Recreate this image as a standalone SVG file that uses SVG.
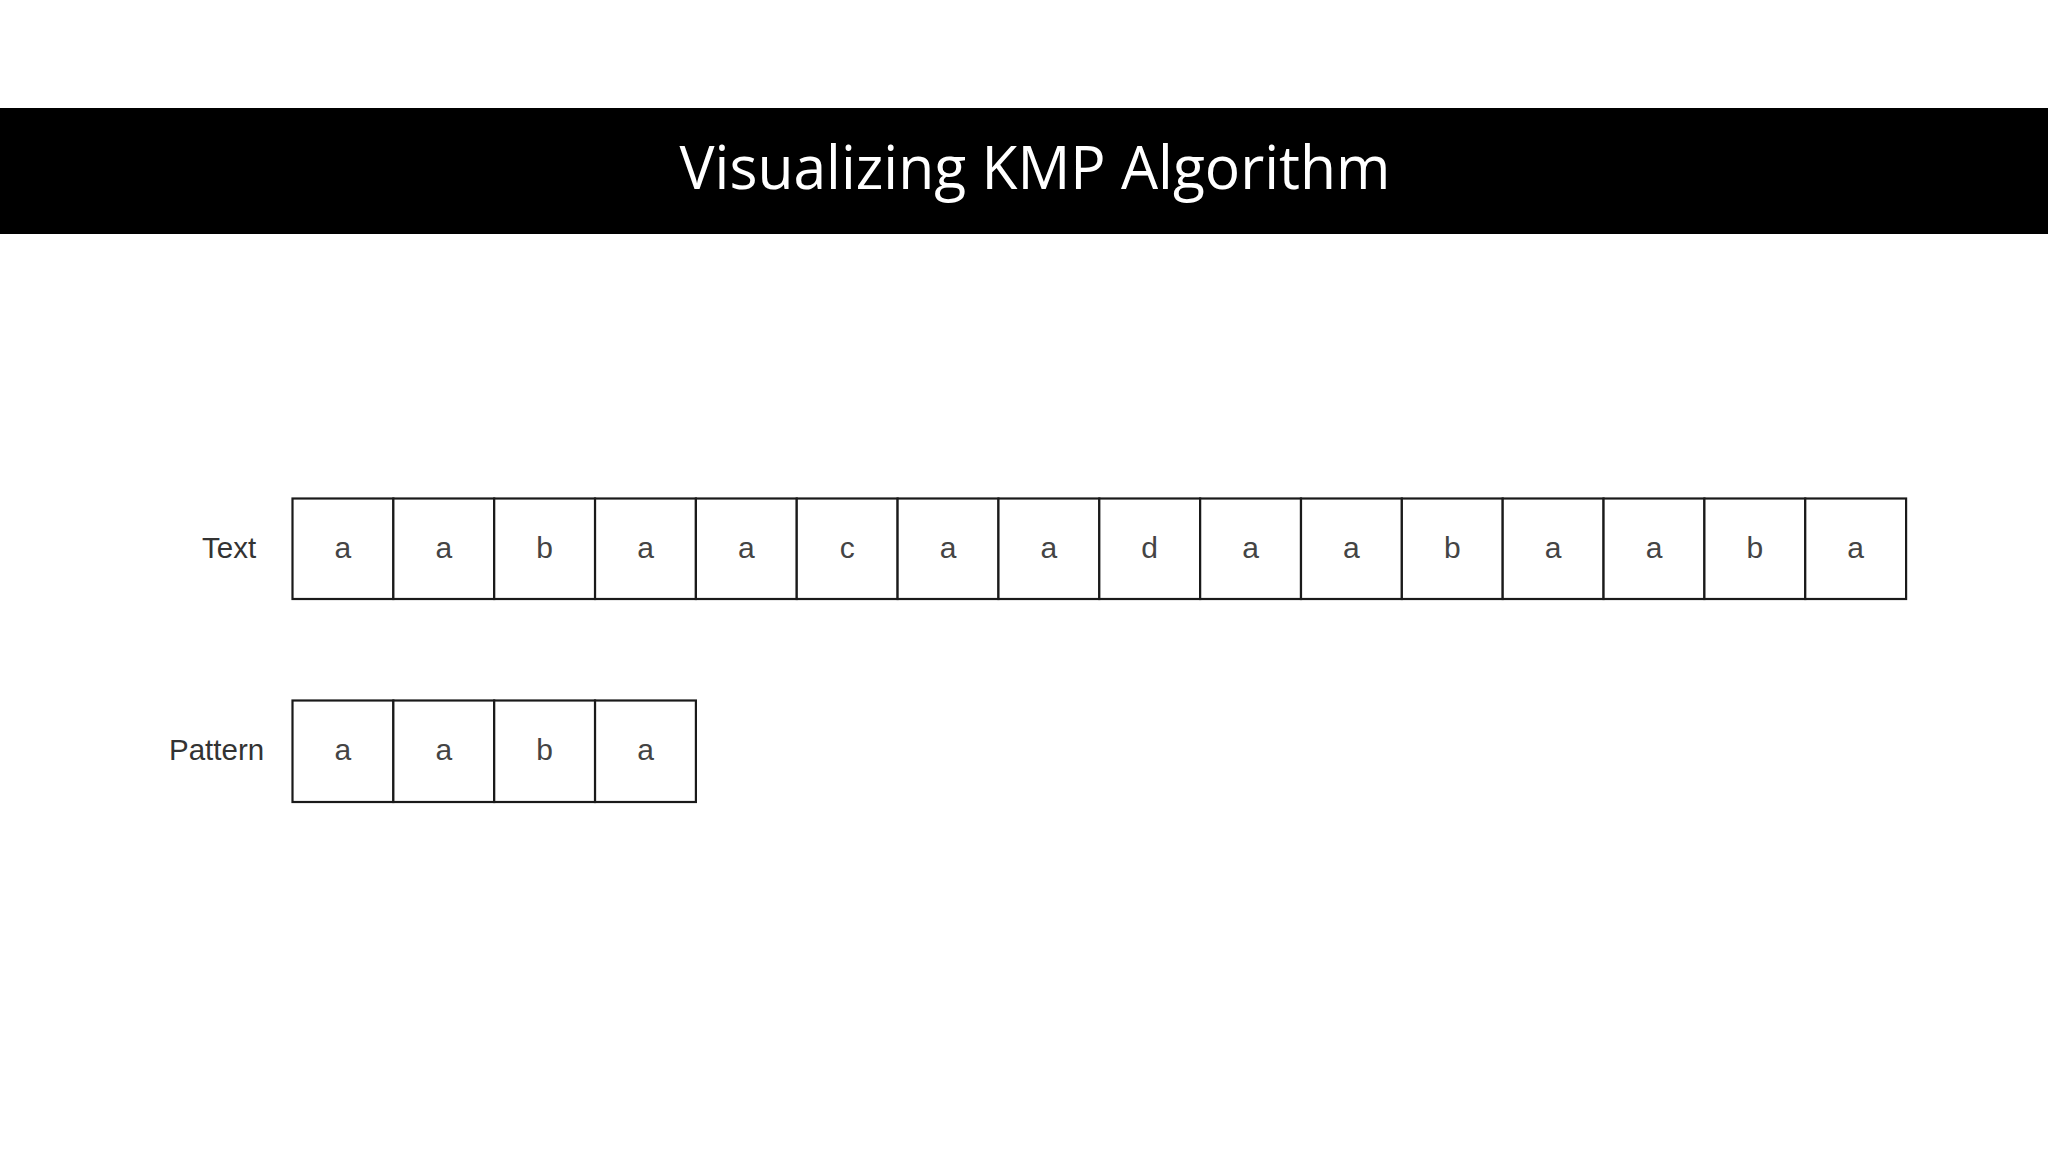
<svg xmlns="http://www.w3.org/2000/svg" width="2048" height="1152" viewBox="0 0 2048 1152">
<style>
.cell{fill:#ffffff;stroke:#1a1a1a;stroke-width:2.2}
.ch{font-family:"Liberation Sans",Arial,sans-serif;font-size:30px;fill:#444444;text-anchor:middle}
.lbl{font-family:"Liberation Sans",Arial,sans-serif;font-size:29.5px;fill:#333333}
.title{font-family:"Open Sans","Noto Sans",sans-serif;font-size:60px;fill:#ffffff;text-anchor:middle}
</style>
<rect width="2048" height="1152" fill="#ffffff"/>
<g id="header">
<rect x="0" y="108" width="2048" height="126" fill="#000000"/>
<text class="title" x="1035" y="189" textLength="711" lengthAdjust="spacingAndGlyphs">Visualizing KMP Algorithm</text>
</g>
<g id="text-label"><text class="lbl" x="202" y="558">Text</text></g>
<g id="pattern-label"><text class="lbl" x="169" y="760">Pattern</text></g>
<g id="text-row">
<rect class="cell" x="292.5" y="498.5" width="100.85" height="100.5"/><text class="ch" x="342.9" y="558">a</text>
<rect class="cell" x="393.35" y="498.5" width="100.85" height="100.5"/><text class="ch" x="443.8" y="558">a</text>
<rect class="cell" x="494.2" y="498.5" width="100.85" height="100.5"/><text class="ch" x="544.6" y="558">b</text>
<rect class="cell" x="595.05" y="498.5" width="100.85" height="100.5"/><text class="ch" x="645.5" y="558">a</text>
<rect class="cell" x="695.9" y="498.5" width="100.85" height="100.5"/><text class="ch" x="746.3" y="558">a</text>
<rect class="cell" x="796.75" y="498.5" width="100.85" height="100.5"/><text class="ch" x="847.2" y="558">c</text>
<rect class="cell" x="897.6" y="498.5" width="100.85" height="100.5"/><text class="ch" x="948.0" y="558">a</text>
<rect class="cell" x="998.45" y="498.5" width="100.85" height="100.5"/><text class="ch" x="1048.9" y="558">a</text>
<rect class="cell" x="1099.3" y="498.5" width="100.85" height="100.5"/><text class="ch" x="1149.7" y="558">d</text>
<rect class="cell" x="1200.15" y="498.5" width="100.85" height="100.5"/><text class="ch" x="1250.6" y="558">a</text>
<rect class="cell" x="1301.0" y="498.5" width="100.85" height="100.5"/><text class="ch" x="1351.4" y="558">a</text>
<rect class="cell" x="1401.85" y="498.5" width="100.85" height="100.5"/><text class="ch" x="1452.3" y="558">b</text>
<rect class="cell" x="1502.7" y="498.5" width="100.85" height="100.5"/><text class="ch" x="1553.1" y="558">a</text>
<rect class="cell" x="1603.55" y="498.5" width="100.85" height="100.5"/><text class="ch" x="1654.0" y="558">a</text>
<rect class="cell" x="1704.4" y="498.5" width="100.85" height="100.5"/><text class="ch" x="1754.8" y="558">b</text>
<rect class="cell" x="1805.25" y="498.5" width="100.85" height="100.5"/><text class="ch" x="1855.7" y="558">a</text>
</g>
<g id="pattern-row">
<rect class="cell" x="292.5" y="700.5" width="100.85" height="101.5"/><text class="ch" x="342.9" y="760">a</text>
<rect class="cell" x="393.35" y="700.5" width="100.85" height="101.5"/><text class="ch" x="443.8" y="760">a</text>
<rect class="cell" x="494.2" y="700.5" width="100.85" height="101.5"/><text class="ch" x="544.6" y="760">b</text>
<rect class="cell" x="595.05" y="700.5" width="100.85" height="101.5"/><text class="ch" x="645.5" y="760">a</text>
</g>
<g id="connectors"></g>
</svg>
